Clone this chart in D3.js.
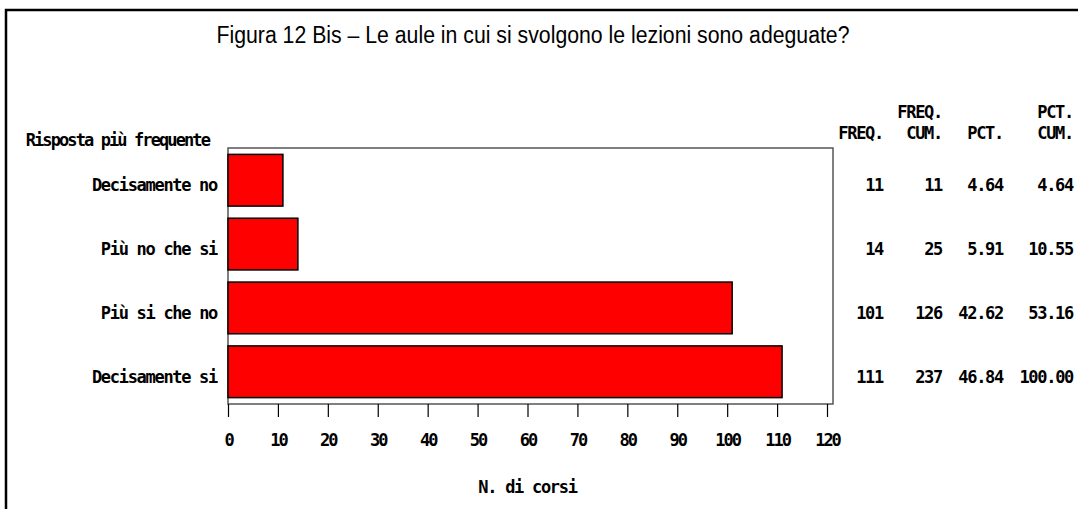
<!DOCTYPE html>
<html>
<head>
<meta charset="utf-8">
<script src="https://cdn.jsdelivr.net/npm/d3@7"></script>
<style>
  body { margin: 0; background: #fff; }
  svg { display: block; }
  .sas { font-family: "DejaVu Sans Mono", monospace; font-size: 17px; font-weight: bold; letter-spacing: -1.3px; fill: #000; }
  .axis .tick line { stroke: #000; stroke-width: 1.2px; }
</style>
</head>
<body>
<svg id="chart" width="1078" height="509"></svg>
<script>
  // values
  var categories = ['Decisamente no', 'Più no che si', 'Più si che no', 'Decisamente si'];
  var freq = [11, 14, 101, 111];
  var freqCum = [11, 25, 126, 237];
  var pct = ['4.64', '5.91', '42.62', '46.84'];
  var pctCum = ['4.64', '10.55', '53.16', '100.00'];
  var xTicks = [0, 10, 20, 30, 40, 50, 60, 70, 80, 90, 100, 110, 120];

(function() {
  var svg = d3.select('#chart');

  // outer frame (runs off the right and bottom edges)
  svg.append('path')
    .attr('d', 'M6,520 L6,10 L1090,10')
    .attr('fill', 'none')
    .attr('stroke', '#000')
    .attr('stroke-width', 2.5);

  svg.append('text')
    .attr('x', 533)
    .attr('y', 43)
    .attr('text-anchor', 'middle')
    .attr('textLength', 633)
    .attr('lengthAdjust', 'spacingAndGlyphs')
    .style('font-family', '"Liberation Sans Narrow", "Liberation Sans", Arial, sans-serif')
    .style('font-size', '23px')
    .text('Figura 12 Bis \u2013 Le aule in cui si svolgono le lezioni sono adeguate?');

  var plotLeft = 228, plotRight = 833, plotTop = 148, plotBottom = 404;

  var x = d3.scaleLinear()
    .domain([0, 120])
    .range([plotLeft, 827]);

  var y = d3.scaleBand()
    .domain(categories)
    .range([plotTop, plotBottom])
    .paddingInner(0.19)
    .paddingOuter(0.1);

  svg.append('rect')
    .attr('x', plotLeft)
    .attr('y', plotTop)
    .attr('width', plotRight - plotLeft)
    .attr('height', plotBottom - plotTop)
    .attr('fill', 'none')
    .attr('stroke', '#555')
    .attr('stroke-width', 1.5);

  svg.selectAll('.bar')
    .data(categories)
    .enter()
    .append('rect')
    .attr('class', 'bar')
    .attr('x', x(0))
    .attr('y', function(d) { return y(d); })
    .attr('width', function(d, i) { return x(freq[i]) - x(0); })
    .attr('height', y.bandwidth())
    .attr('fill', '#ff0000')
    .attr('stroke', '#000')
    .attr('stroke-width', 1.5);

  var xAxis = d3.axisBottom(x)
    .tickValues(xTicks)
    .tickSize(13)
    .tickSizeOuter(0)
    .tickPadding(17);

  var ax = svg.append('g')
    .attr('class', 'axis')
    .attr('transform', 'translate(0,' + plotBottom + ')')
    .call(xAxis);

  ax.select('.domain').remove();
  ax.selectAll('.tick text')
    .attr('class', 'sas')
    .attr('fill', '#000')
    .style('font-size', '17px')
    .style('letter-spacing', '-2px')
    .style('font-family', '"DejaVu Sans Mono", monospace');

  svg.append('text')
    .attr('class', 'sas')
    .attr('x', x(60))
    .attr('y', 493)
    .attr('text-anchor', 'middle')
    .text('N. di corsi');

  svg.append('text')
    .attr('class', 'sas')
    .attr('x', 209)
    .attr('y', 146)
    .attr('text-anchor', 'end')
    .style('letter-spacing', '-1.9px')
    .text('Risposta più frequente');

  svg.selectAll('.cat')
    .data(categories)
    .enter()
    .append('text')
    .attr('class', 'sas cat')
    .attr('x', 217)
    .attr('y', function(d) { return y(d) + y.bandwidth() / 2 + 11; })
    .attr('text-anchor', 'end')
    .text(function(d) { return d; });

  // statistics table on the right
  var columns = [
    { right: 883, head: ['', 'FREQ.'], values: freq },
    { right: 942, head: ['FREQ.', 'CUM.'], values: freqCum },
    { right: 1003, head: ['', 'PCT.'], values: pct },
    { right: 1073, head: ['PCT.', 'CUM.'], values: pctCum }
  ];

  columns.forEach(function(col) {
    svg.append('text')
      .attr('class', 'sas')
      .attr('x', col.right)
      .attr('y', 118)
      .attr('text-anchor', 'end')
      .text(col.head[0]);

    svg.append('text')
      .attr('class', 'sas')
      .attr('x', col.right)
      .attr('y', 139)
      .attr('text-anchor', 'end')
      .text(col.head[1]);

    svg.selectAll(null)
      .data(categories)
      .enter()
      .append('text')
      .attr('class', 'sas')
      .attr('x', col.right)
      .attr('y', function(d) { return y(d) + y.bandwidth() / 2 + 11; })
      .attr('text-anchor', 'end')
      .text(function(d, i) { return col.values[i]; });
  });
})();
</script>
</body>
</html>
